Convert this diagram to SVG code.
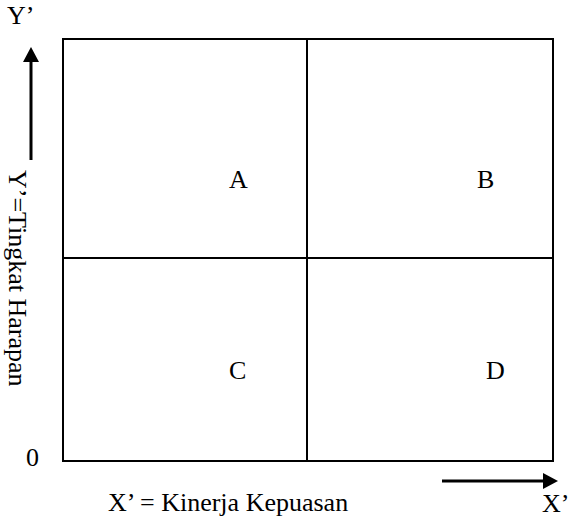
<svg xmlns="http://www.w3.org/2000/svg" width="572" height="523" viewBox="0 0 572 523">
<style>
.t{font-family:'Liberation Serif','Times New Roman','DejaVu Serif',serif;font-size:26px;fill:#000}
.ln{stroke:#000;stroke-width:2;fill:none}
</style>
<rect width="572" height="523" fill="#fff"/>
<g id="grid">
<rect class="ln" x="63" y="39" width="490" height="422"/>
<line class="ln" x1="307" y1="39" x2="307" y2="461"/>
<line class="ln" x1="63" y1="258" x2="553" y2="258"/>
</g>
<g id="quadA"><text class="t" x="229" y="188">A</text></g>
<g id="quadB"><text class="t" x="477" y="188">B</text></g>
<g id="quadC"><text class="t" x="229" y="379">C</text></g>
<g id="quadD"><text class="t" x="486" y="379">D</text></g>
<g id="connectors">
<line x1="31" y1="160" x2="31" y2="62" stroke="#000" stroke-width="3"/>
<path d="M23,62 L31,47 L39,62 Z" fill="#000"/>
<line x1="442" y1="481" x2="545" y2="481" stroke="#000" stroke-width="3"/>
<path d="M543,473 L558,481 L543,489 Z" fill="#000"/>
</g>
<g id="labels">
<text class="t" x="7" y="24">Y’</text>
<text class="t" x="26" y="466">0</text>
<text class="t" x="108" y="511">X’ = Kinerja Kepuasan</text>
<text class="t" x="542" y="512">X’</text>
<text class="t" transform="translate(9,170) rotate(90)">Y’=Tingkat Harapan</text>
</g>
</svg>
